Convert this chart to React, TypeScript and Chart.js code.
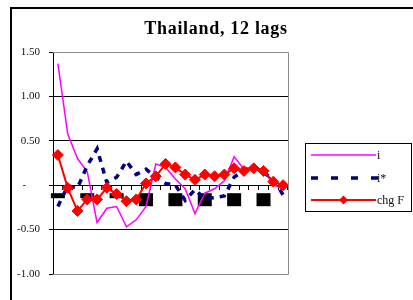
import React, { useEffect, useRef } from 'react';
import { Chart, registerables } from 'chart.js';

Chart.register(...registerables);

const chartTitle = 'Thailand, 12 lags';
const categories = ['1','2','3','4','5','6','7','8','9','10','11','12','13','14','15','16','17','18','19','20','21','22','23','24'];
const seriesNames = ['i', 'i*', 'chg F'];
const seriesI = [1.37, 0.58, 0.30, 0.15, -0.42, -0.26, -0.24, -0.47, -0.39, -0.24, 0.24, 0.20, 0.07, -0.04, -0.32, -0.09, -0.04, 0.05, 0.32, 0.18, 0.21, 0.17, 0.01, -0.05];
const seriesIStar = [-0.24, -0.01, -0.03, 0.22, 0.41, 0.03, 0.09, 0.27, 0.12, 0.18, 0.09, 0.02, 0.0, -0.17, -0.05, -0.15, -0.14, -0.12, 0.09, 0.17, 0.21, 0.14, 0.07, -0.11];
const seriesChgF = [0.34, -0.03, -0.29, -0.16, -0.16, -0.03, -0.10, -0.18, -0.16, 0.02, 0.10, 0.24, 0.20, 0.12, 0.06, 0.12, 0.10, 0.12, 0.19, 0.16, 0.19, 0.16, 0.04, 0.0];
const yTickValues = [1.5, 1.0, 0.5, 0, -0.5, -1.0];
const yTickLabels = ['1.50', '1.00', '0.50', '-', '-0.50', '-1.00'];

const colors = { i: '#FF00FF', iStar: '#000080', chgF: '#FF0000' };
const serif = "'Liberation Serif', 'Times New Roman', serif";

const decorPlugin = {
  id: 'decor',
  beforeDraw(chart: any) {
    const ctx = chart.ctx;
    ctx.save();
    ctx.fillStyle = '#ffffff';
    ctx.fillRect(0, 0, chart.width, chart.height);
    ctx.restore();
  },
  afterDraw(chart: any) {
    const ctx = chart.ctx;
    const a = chart.chartArea;
    ctx.save();
    ctx.strokeStyle = '#8a8a8a';
    ctx.lineWidth = 1;
    ctx.beginPath();
    ctx.moveTo(a.left, a.top + 0.5);
    ctx.lineTo(a.right + 0.5, a.top + 0.5);
    ctx.lineTo(a.right + 0.5, a.bottom + 0.5);
    ctx.lineTo(a.left, a.bottom + 0.5);
    ctx.stroke();
    ctx.fillStyle = '#000';
    ctx.fillRect(10, 7, 2, chart.height - 7);
    ctx.fillRect(10, 7, chart.width - 10, 2);
    ctx.fillStyle = '#000';
    ctx.font = `bold 18px ${serif}`;
    try { (ctx as any).letterSpacing = '0.7px'; } catch (e) { /* ignore */ }
    ctx.textAlign = 'center';
    ctx.textBaseline = 'middle';
    ctx.fillText(chartTitle, 216, 29);
    try { (ctx as any).letterSpacing = '0px'; } catch (e) { /* ignore */ }
    const lx = 305.5, ly = 143.5, lw = 106, lh = 68;
    ctx.strokeStyle = '#000';
    ctx.lineWidth = 1;
    ctx.strokeRect(lx, ly, lw, lh);
    const rows = [155, 178, 200];
    const x1 = 311, x2 = 376;
    ctx.font = `12px ${serif}`;
    ctx.textAlign = 'left';
    ctx.textBaseline = 'middle';
    ctx.strokeStyle = colors.i;
    ctx.lineWidth = 1.5;
    ctx.beginPath(); ctx.moveTo(x1, rows[0]); ctx.lineTo(x2, rows[0]); ctx.stroke();
    ctx.strokeStyle = colors.iStar;
    ctx.lineWidth = 3.5;
    ctx.setLineDash([7, 13]);
    ctx.beginPath(); ctx.moveTo(x1, rows[1]); ctx.lineTo(x2 + 2, rows[1]); ctx.stroke();
    ctx.setLineDash([]);
    ctx.strokeStyle = colors.chgF;
    ctx.lineWidth = 2;
    ctx.beginPath(); ctx.moveTo(x1, rows[2]); ctx.lineTo(x2, rows[2]); ctx.stroke();
    const cx = (x1 + x2) / 2, r = 4.5;
    ctx.fillStyle = colors.chgF;
    ctx.beginPath();
    ctx.moveTo(cx, rows[2] - r); ctx.lineTo(cx + r, rows[2]); ctx.lineTo(cx, rows[2] + r); ctx.lineTo(cx - r, rows[2]);
    ctx.closePath(); ctx.fill();
    ctx.fillStyle = '#111';
    seriesNames.forEach((n, k) => ctx.fillText(n, 377, rows[k] + 1));
    ctx.restore();
  },
};

export default function App() {
  const ref = useRef<HTMLCanvasElement>(null);
  useEffect(() => {
    if (!ref.current) return;
    const labelOf = (ctx: any) => String(ctx?.tick?.label ?? '');
    const chart = new Chart(ref.current, {
      type: 'line',
      data: {
        labels: categories,
        datasets: [
          { label: seriesNames[0], data: seriesI, borderColor: colors.i, backgroundColor: colors.i, borderWidth: 1.5, pointRadius: 0, tension: 0, order: 3 },
          { label: seriesNames[1], data: seriesIStar, borderColor: colors.iStar, backgroundColor: colors.iStar, borderWidth: 3.5, borderDash: [6, 6], pointRadius: 0, tension: 0, order: 2 },
          { label: seriesNames[2], data: seriesChgF, borderColor: colors.chgF, backgroundColor: colors.chgF, borderWidth: 2, pointStyle: 'rectRot', pointRadius: 5.5, pointBackgroundColor: colors.chgF, pointBorderColor: colors.chgF, pointBorderWidth: 1, tension: 0, order: 1 },
        ],
      },
      options: {
        responsive: false,
        animation: false,
        layout: { padding: { left: 8, top: 52, right: 125, bottom: 26 } },
        plugins: { legend: { display: false }, tooltip: { enabled: false }, title: { display: false } },
        scales: {
          x: {
            type: 'category',
            position: { y: 0 },
            offset: true,
            afterFit: (s: any) => { s.height = 0; },
            grid: { drawOnChartArea: false, drawTicks: true, tickLength: 4, color: '#000', offset: true },
            border: { display: true, color: '#000', width: 1 },
            ticks: {
              autoSkip: false,
              maxRotation: 0,
              minRotation: 0,
              padding: 6,
              color: (ctx: any) => (labelOf(ctx).length === 1 ? 'rgba(0,0,0,0)' : '#000'),
              callback: (_v: any, index: number) => (index % 3 === 0 ? categories[index] : ''),
              font: (ctx: any) => (labelOf(ctx).length === 1
                ? { family: serif, size: 20, lineHeight: '1px' }
                : { family: serif, size: 10, lineHeight: '9px' }),
              showLabelBackdrop: (ctx: any) => labelOf(ctx).length > 0,
              backdropColor: '#000',
              backdropPadding: 2,
            } as any,
          },
          y: {
            min: -1,
            max: 1.5,
            afterFit: (s: any) => { s.width = 45; },
            afterBuildTicks: (s: any) => { s.ticks = yTickValues.map((v) => ({ value: v })); },
            grid: {
              color: (ctx: any) => (ctx.tick && (ctx.tick.value === 1.5 || ctx.tick.value === -1) ? '#8a8a8a' : '#000'),
              tickColor: '#000',
              drawTicks: true,
              tickLength: 4,
              lineWidth: 1,
            },
            border: { display: true, color: '#000', width: 1 },
            ticks: {
              padding: 9,
              color: '#111',
              font: { family: serif, size: 11 },
              callback: (v: any) => {
                const k = yTickValues.findIndex((t) => Math.abs(t - Number(v)) < 1e-9);
                const s = k >= 0 ? yTickLabels[k] : '';
                return s === '-' ? '-     ' : s;
              },
            },
          },
        },
      } as any,
      plugins: [decorPlugin],
    });
    return () => chart.destroy();
  }, []);
  return (
    <div style={{ position: 'absolute', left: 0, top: 0, width: 413, height: 300, overflow: 'hidden' }}>
      <canvas ref={ref} width={413} height={300} style={{ display: 'block', width: 413, height: 300 }} />
    </div>
  );
}
